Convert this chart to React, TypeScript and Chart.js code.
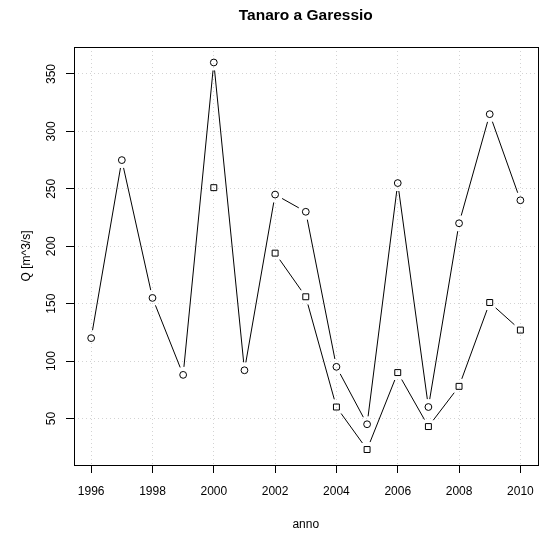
import React, { useEffect, useRef } from "react";
import { Chart, registerables } from "chart.js";

Chart.register(...registerables);

const years = [1996, 1997, 1998, 1999, 2000, 2001, 2002, 2003, 2004, 2005, 2006, 2007, 2008, 2009, 2010];
const circleSeries = [120, 275, 155, 88, 360, 92, 245, 230, 95, 45, 255, 60, 220, 315, 240];
const squareSeries: (number | null)[] = [null, null, null, null, 251, null, 194, 156, 60, 23, 90, 43, 78, 151, 127];
const xTicks = [1996, 1998, 2000, 2002, 2004, 2006, 2008, 2010];
const yTicks = [50, 100, 150, 200, 250, 300, 350];
const titleText = "Tanaro a Garessio";
const xTitle = "anno";
const yTitle = "Q [m^3/s]";

const FONT = "'Liberation Sans', Arial, Helvetica, sans-serif";
const GAP = 8;

const gapLines = {
  id: "gapLines",
  afterDatasetsDraw(chart: any) {
    const ctx = chart.ctx;
    ctx.save();
    ctx.beginPath();
    chart.data.datasets.forEach((_: any, i: number) => {
      const pts = chart.getDatasetMeta(i).data;
      for (let k = 0; k < pts.length - 1; k++) {
        const a = pts[k], b = pts[k + 1];
        if (!a || !b || a.skip || b.skip) continue;
        const dx = b.x - a.x, dy = b.y - a.y;
        const len = Math.hypot(dx, dy);
        if (len <= 2 * GAP) continue;
        const ux = dx / len, uy = dy / len;
        ctx.moveTo(a.x + ux * GAP, a.y + uy * GAP);
        ctx.lineTo(b.x - ux * GAP, b.y - uy * GAP);
      }
    });
    ctx.strokeStyle = "#000";
    ctx.lineWidth = 1;
    ctx.stroke();
    ctx.restore();
  },
};

const boxPlugin = {
  id: "boxPlugin",
  afterDraw(chart: any) {
    const { left, right, top, bottom } = chart.chartArea;
    const ctx = chart.ctx;
    ctx.save();
    ctx.strokeStyle = "#000";
    ctx.lineWidth = 1;
    ctx.strokeRect(Math.round(left) + 0.5, Math.round(top) + 0.5, Math.round(right - left), Math.round(bottom - top));
    ctx.restore();
  },
};

export default function App() {
  const ref = useRef<HTMLCanvasElement | null>(null);

  useEffect(() => {
    if (!ref.current) return;
    const all = [...circleSeries, ...(squareSeries.filter((v) => v !== null) as number[])];
    const lo = Math.min(...all), hi = Math.max(...all);
    const yr = hi - lo;
    const xr = years[years.length - 1] - years[0];

    const chart = new Chart(ref.current, {
      type: "scatter",
      data: {
        datasets: [
          {
            label: "circles",
            data: years.map((x, i) => ({ x, y: circleSeries[i] })),
            pointStyle: "circle",
            pointRadius: 3.4,
            pointBorderWidth: 1,
            pointBorderColor: "#000",
            pointBackgroundColor: "rgba(0,0,0,0)",
            showLine: false,
          },
          {
            label: "squares",
            data: years.map((x, i) => ({ x, y: squareSeries[i] as any })),
            pointStyle: "rect",
            pointRadius: 4.2,
            pointBorderWidth: 1,
            pointBorderColor: "#000",
            pointBackgroundColor: "rgba(0,0,0,0)",
            showLine: false,
          },
        ],
      },
      options: {
        animation: false,
        responsive: false,
        devicePixelRatio: 1,
        layout: { padding: { top: 0, left: 0, right: 4, bottom: 0 } },
        plugins: {
          legend: { display: false },
          tooltip: { enabled: false },
          title: {
            display: true,
            text: titleText,
            fullSize: false,
            color: "#000",
            font: { family: FONT, size: 15.5, weight: "bold", lineHeight: 1.2 },
            padding: { top: 6, bottom: 22.4 },
          },
        },
        scales: {
          x: {
            type: "linear",
            min: years[0] - 0.04 * xr,
            max: years[years.length - 1] + 0.04 * xr,
            afterBuildTicks: (s: any) => {
              s.ticks = xTicks.map((v) => ({ value: v }));
            },
            afterFit: (s: any) => {
              s.height = 71;
            },
            ticks: {
              color: "#000",
              font: { family: FONT, size: 12 },
              padding: 11,
              maxRotation: 0,
              minRotation: 0,
              autoSkip: false,
              callback: (v: any) => String(v),
            },
            grid: {
              color: "#d3d3d3",
              lineWidth: 1,
              drawTicks: true,
              tickLength: 8,
              tickColor: "#000",
              tickWidth: 1,
            },
            border: { display: false, dash: [1, 3] },
            title: {
              display: true,
              text: xTitle,
              color: "#000",
              font: { family: FONT, size: 12, lineHeight: 1.2 },
              padding: { top: 0, bottom: 4 },
            },
          },
          y: {
            type: "linear",
            min: lo - 0.04 * yr,
            max: hi + 0.04 * yr,
            afterBuildTicks: (s: any) => {
              s.ticks = yTicks.map((v) => ({ value: v }));
            },
            afterFit: (s: any) => {
              s.width = 74;
            },
            ticks: {
              color: "#000",
              font: { family: FONT, size: 12 },
              padding: 4,
              minRotation: 90,
              maxRotation: 90,
              crossAlign: "center",
              autoSkip: false,
              callback: (v: any) => String(v),
            },
            grid: {
              color: "#d3d3d3",
              lineWidth: 1,
              drawTicks: true,
              tickLength: 8,
              tickColor: "#000",
              tickWidth: 1,
            },
            border: { display: false, dash: [1, 3] },
            title: {
              display: true,
              text: yTitle,
              color: "#000",
              font: { family: FONT, size: 12, lineHeight: 1.2 },
              padding: { top: 19, bottom: 0 },
            },
          },
        },
      },
      plugins: [gapLines, boxPlugin],
    } as any);
    return () => chart.destroy();
  }, []);

  return (
    <div style={{ position: "absolute", left: 0, top: 0, width: 545, height: 536, background: "#fff" }}>
      <canvas ref={ref} width={545} height={536} style={{ width: 545, height: 536 }} />
    </div>
  );
}
